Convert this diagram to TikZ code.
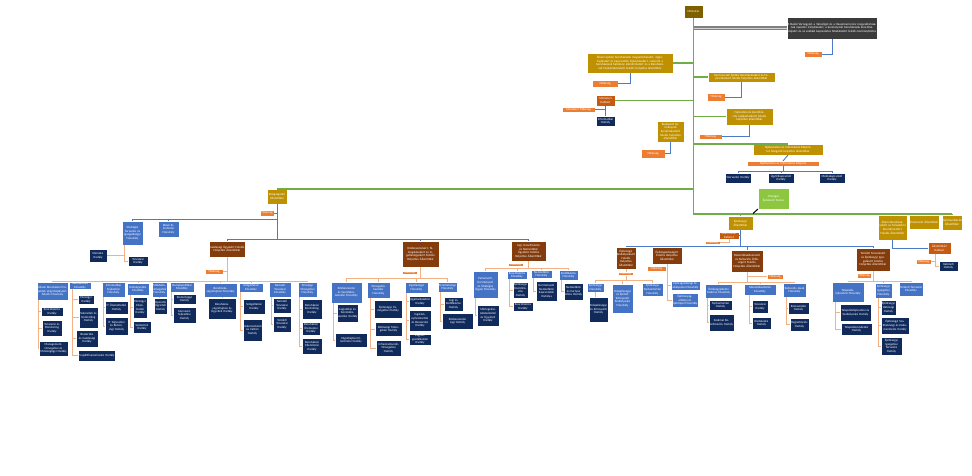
\documentclass[tikz,border=0pt]{standalone}
\usepackage{fontspec}
\setmainfont{Carlito}
\usetikzlibrary{calc}
\definecolor{minc}{HTML}{7F6000}
\definecolor{grayc}{HTML}{3B3B3B}
\definecolor{goldc}{HTML}{BF9000}
\definecolor{orc}{HTML}{ED7D31}
\definecolor{kabc}{HTML}{C55A11}
\definecolor{navyc}{HTML}{102A5C}
\definecolor{bluec}{HTML}{4472C4}
\definecolor{brownc}{HTML}{843C0C}
\definecolor{greenc}{HTML}{8DC63F}
\definecolor{glc}{HTML}{70AD47}
\definecolor{blc}{HTML}{4A7AC8}
\definecolor{olc}{HTML}{F4B183}
\newcommand\fs{\fontsize{3.1}{3.6}\selectfont}
\newcommand\obox[7]{%
  \pgfmathsetmacro\bxw{#5-#3}\pgfmathsetmacro\bxh{#6-#4}\pgfmathsetmacro\bxtw{max(#5-#3-1,1)}%
  \node[#2, minimum width=\bxw pt, minimum height=\bxh pt, text width=\bxtw pt] (#1) at ({(#3+#5)/2},{(#4+#6)/2}) {#7};}
\newcommand\vl[3]{\coordinate (vtmp) at (#2,0);
  \foreach \c in {#3}{\draw[oline] (vtmp |- #1.south) |- (\c.west);}}
\newcommand\bus[6]{\coordinate (bl) at (#4,#3); \coordinate (br) at (#5,#3);
  \draw[#1] (#2.south) -- (#2.south |- bl);
  \draw[#1] (bl) -- (br);
  \foreach \c in {#6}{\draw[#1] (\c.north |- bl) -- (\c.north);}}
\tikzset{
  box/.style={inner sep=0pt, outer sep=0pt, align=center, text=white, font=\fs, draw=white, line width=0.3pt},
  minb/.style={box, fill=minc},
  grayb/.style={box, fill=grayc},
  goldb/.style={box, fill=goldc},
  orb/.style={box, fill=orc},
  kabb/.style={box, fill=kabc},
  navyb/.style={box, fill=navyc},
  blueb/.style={box, fill=bluec},
  brownb/.style={box, fill=brownc},
  greenb/.style={box, fill=greenc},
  gline/.style={draw=glc, line width=1.1pt},
  bline/.style={draw=blc, line width=0.9pt},
  oline/.style={draw=olc, line width=0.9pt},
  grline/.style={draw=gray, line width=1.6pt, double=gray!35, double distance=0.5pt},
}
\begin{document}
\begin{tikzpicture}[x=1pt,y=-1pt]
\fill[white] (0,0) rectangle (972,475);
\useasboundingbox (0,0) rectangle (972,475);
% ---------- top
\obox{min}{minb}{684}{5}{703}{18}{Miniszter}
\obox{kb}{grayb}{787}{17}{877}{39}{A Budai Várnegyed, a Városliget és a Hauszmann-terv megvalósításának operatív irányításáért, a kormányzati beruházások koordinációjáért és az ezekkel kapcsolatos feladatokért felelős kormánybiztos}
\obox{tkb}{orb}{804}{51}{822}{57}{Titkárság}
\obox{g1}{goldb}{587}{53}{673}{73}{Állami építési beruházások megvalósításáért, végrehajtásáért és kapcsolódó fejlesztésekért, valamint a beruházások hatékony ellenőrzéséért és a Beruházások Nyilvántartásáért felelős helyettes államtitkár}
\obox{t1}{orb}{592}{80}{618}{87}{Titkárság}
\obox{g2}{goldb}{708}{72}{775}{82}{Kormányzati Építési Beruházásokért és Fejlesztésekért felelős helyettes államtitkár}
\obox{t2}{orb}{707}{93}{725}{101}{Titkárság}
\obox{mk}{kabb}{596}{95}{615}{106}{Miniszteri Kabinet}
\obox{mt}{orb}{562}{107}{595}{112}{Miniszteri Titkárság}
\obox{io}{navyb}{596}{116}{615}{126}{Informatikai Osztály}
\obox{g3}{goldb}{726}{108}{773}{125}{Fejlesztési és koordinációs tájékoztatásért felelős helyettes államtitkár}
\obox{t3}{orb}{699}{134}{722}{139}{Titkárság}
\obox{g4}{goldb}{657}{121}{684}{142}{Budapesti kormányzati beruházásokért felelős helyettes államtitkár}
\obox{t4}{orb}{641}{149}{665}{158}{Titkárság}
\obox{g5}{goldb}{753}{144}{823}{155}{Tájékoztatási és Információs Központot felügyelő helyettes államtitkár}
\obox{tik}{orb}{747}{161}{819}{166}{Tájékoztatási és Információs Központ}
\obox{n51}{navyb}{725}{173}{751}{183}{Szervezési Osztály}
\obox{n52}{navyb}{768}{173}{794}{183}{Ügyfélkapcsolati Osztály}
\obox{n53}{navyb}{819}{173}{845}{183}{Médiakapcsolati Osztály}
\obox{oet}{greenb}{758}{188}{789}{209}{Országos Építészeti Tanács}
\coordinate (gbot) at (693.5,214);
\coordinate (gend) at (952,214);
\coordinate (gc) at (753,213.5);
\draw[gline] (min.south) -- (gbot) -- (gend);
\draw[grline] (min.south |- kb.west) -- (kb.west);
\draw[gline] (min.south |- g1.east) -- (g1.east);
\draw[gline] (min.south |- g2.west) -- (g2.west);
\draw[gline] (min.south |- mk.east) -- (mk.east);
\draw[gline] (min.south |- g3.west) -- (g3.west);
\draw[gline] (min.south |- g5.north) -- (g5.north);
\draw[bline] (kb.south) |- (tkb.east);
\draw[bline] (g1.south) |- (t1.east);
\draw[bline] (g2.south) |- (t2.east);
\draw[bline] (g3.south) |- (t3.east);
\draw[bline] (g4.south) |- (t4.east);
\draw[bline] (mk.south) -- (io.north);
\draw[bline] (mt.east) -- (mt.east -| mk.south);
\draw[bline] (g5.south) -- (tik.north);
\bus{bline}{tik}{171}{738}{832}{n51,n52,n53}
\draw[black, line width=1pt] (oet.south west) -- (gc);
% ---------- right top-level
\obox{ea}{goldb}{728}{216}{753}{230}{Építésügyi Államtitkár}
\obox{ab}{goldb}{878}{215}{907}{240}{Állami Beruházásokért és Társadalmi Koordinációért Felelős Államtitkár}
\obox{pa}{goldb}{909}{215}{939}{229}{Parlamenti Államtitkár}
\obox{ka}{goldb}{942}{215}{962}{230}{Kommunikációs Államtitkár}
\foreach \n in {ea,ab,pa,ka}{\draw[gline] (gbot -| \n.north) -- (\n.north);}
\obox{abk}{kabb}{928}{242}{951}{254}{Államtitkári Kabinet}
\obox{tabk}{orb}{916}{259}{931}{264}{Titkárság}
\obox{nabk}{navyb}{939}{261}{958}{271}{Kabineti Osztály}
\draw[bline] (ab.south) |- (abk.west);
\coordinate (kv) at (935,0);
\draw[oline] (kv |- abk.south) |- (nabk.west);
\draw[oline] (tabk.east) -- (tabk.east -| kv);
% ---------- left: Közigazgatási
\obox{kf}{goldb}{267}{189}{287}{204}{Közigazgatási Államtitkár}
\obox{tkf}{orb}{260}{210}{274}{216}{Titkárság}
\draw[gline] (min.south |- kf.north) -- (kf.north);
\obox{str}{blueb}{122}{221}{143}{245}{Stratégiai Tervezési és Igazgatás\-ügyi Főosztály}
\obox{bel}{blueb}{158}{221}{179}{237}{Belső Ellenőrzési Főosztály}
\obox{elo}{navyb}{89}{249}{107}{262}{Elemzési Osztály}
\obox{tro}{navyb}{128}{256}{148}{266}{Tervezési Osztály}
\obox{gaz}{brownb}{209}{241}{245}{257}{Gazdasági Ügyekért Felelős Helyettes Államtitkár}
\obox{kozb}{brownb}{402}{241}{439}{267}{Közbeszerzésért, Támogatásokért és Ingatlanügyekért Felelős Helyettes Államtitkár}
\obox{jog}{brownb}{511}{241}{546}{261}{Jogi, Koordinációs és Nemzetközi Ügyekért Felelős Helyettes Államtitkár}
\coordinate (lb1) at (0,219);
\coordinate (lb2) at (0,239);
\draw[bline] (kf.south) -- (kf.south |- lb2);
\draw[bline] (str.north) |- (kf.south |- lb1);
\draw[bline] (bel.north) -- (bel.north |- lb1);
\draw[bline] (gaz.north) |- (kf.south |- lb2);
\draw[bline] (kf.south |- lb2) -| (jog.north);
\draw[bline] (kozb.north) -- (kozb.north |- lb2);
\draw[bline] (tkf.east) -- (tkf.east -| kf.south);
\coordinate (sv) at (124,0);
\draw[oline] (sv |- str.south) |- (elo.east);
\draw[oline] (sv |- str.south) |- (tro.west);
% Gazdasági
\obox{fa}{blueb}{37}{282}{68}{300}{Állami Beruházási Projektek Végrehajtásáért Felelős Főosztály}
\obox{fb}{blueb}{69}{282}{91}{289}{Gazdálkodási Főosztály}
\obox{fc}{blueb}{102}{282}{125}{297}{Informatikai Fejlesztési Főosztály}
\obox{fd}{blueb}{127}{283}{149}{295}{Költségvetési Főosztály}
\obox{fe}{blueb}{152}{282}{167}{297}{Működés\-támogatási Főosztály}
\obox{ff}{blueb}{170}{282}{194}{292}{Humánpolitikai Főosztály}
\obox{fg}{blueb}{204}{283}{237}{297}{Beruházás\-végrehajtási Főosztály}
\obox{fh}{blueb}{239}{283}{263}{292}{Szolgáltatási Főosztály}
\obox{fi}{blueb}{269}{282}{291}{297}{Nemzeti Tervezési Főosztály}
\obox{fj}{blueb}{298}{282}{317}{297}{Pénzügyi Támogatási Főosztály}
\bus{oline}{gaz}{281}{52.5}{307.5}{fa,fb,fc,fd,fe,ff,fg,fh,fi,fj}
\obox{tgaz}{orb}{205}{269}{223}{274}{Titkárság}
\draw[oline] (tgaz.east) -- (tgaz.east -| gaz.south);
\obox{na1}{navyb}{41}{307}{63}{316}{Koordinációs Osztály}
\obox{na2}{navyb}{42}{320}{62}{336}{Tervezési és Monitoring Osztály}
\obox{na3}{navyb}{39}{341}{68}{356}{Management\-támogatási és Minőségügyi Osztály}
\vl{fa}{38}{na1,na2,na3}
\obox{nb1}{navyb}{78}{295}{94}{304}{Pénzügyi Osztály}
\obox{nb2}{navyb}{79}{307}{98}{328}{Számviteli és Kontrolling Osztály}
\obox{nb3}{navyb}{76}{330}{98}{347}{Beszerzési és Gazdasági Osztály}
\obox{nb4}{navyb}{78}{350}{115}{361}{Projektfinanszírozási Osztály}
\vl{fb}{72}{nb1,nb2,nb3,nb4}
\obox{nc1}{navyb}{105}{301}{128}{314}{IT Üzemeltetési Osztály}
\obox{nc2}{navyb}{105}{317}{128}{335}{IT Fejlesztési és Biztonsági Osztály}
\vl{fc}{103}{nc1,nc2}
\obox{nd1}{navyb}{133}{297}{147}{318}{Pénzügyi Elszámolási Osztály}
\obox{nd2}{navyb}{133}{321}{151}{333}{Számviteli Osztály}
\vl{fd}{130}{nd1,nd2}
\obox{ne1}{navyb}{154}{298}{167}{314}{Operatív Ügyviteli Osztály}
\draw[oline] (fe.south) -- (fe.south |- ne1.north);
\obox{nf1}{navyb}{173}{294}{196}{304}{Személyügyi Osztály}
\obox{nf2}{navyb}{173}{307}{196}{323}{Szervezet\-fejlesztési Osztály}
\vl{ff}{171}{nf1,nf2}
\obox{ng1}{navyb}{208}{298}{236}{319}{Beruházás\-végrehajtási és Ügyviteli Osztály}
\draw[oline] (fg.south -| ng1.north) -- (ng1.north);
\obox{nh1}{navyb}{243}{299}{265}{314}{Szolgáltatási Osztály}
\obox{nh2}{navyb}{243}{319}{262}{341}{Dokumentációs és Irattári Osztály}
\vl{fh}{240.5}{nh1,nh2}
\obox{ni1}{navyb}{273}{298}{291}{313}{Nemzeti Tervezési Osztály}
\obox{ni2}{navyb}{273}{316}{291}{332}{Területi Tervezési Osztály}
\vl{fi}{271}{ni1,ni2}
\obox{nj1}{navyb}{302}{299}{322}{319}{Beruházási Kontrolling Osztály}
\obox{nj2}{navyb}{302}{322}{320}{335}{Beruházási Ütemezési Osztály}
\obox{nj3}{navyb}{302}{338}{322}{354}{Beruházási Ellenőrzési Osztály}
\vl{fj}{299.5}{nj1,nj2,nj3}
% Közbeszerzés
\obox{fk}{blueb}{331}{282}{362}{303}{Közbeszerzési és Szerződés\-kezelési Főosztály}
\obox{fl}{blueb}{367}{282}{390}{298}{Támogatás\-kezelési Főosztály}
\obox{fm}{blueb}{405}{282}{428}{293}{Ingatlanügyi Főosztály}
\obox{fn}{blueb}{438}{282}{457}{292}{Fennhatósági Főosztály}
\bus{oline}{kozb}{278}{346.5}{447.5}{fk,fl,fm,fn}
\obox{tkozb}{orb}{402}{271}{417}{274}{Titkárság}
\obox{nk1}{navyb}{337}{304}{358}{322}{Logisztikai és Szerződés\-kezelési Osztály}
\obox{nk2}{navyb}{335}{333}{367}{347}{Végrehajtási Ellenőrzési Osztály}
\vl{fk}{333}{nk1,nk2}
\obox{nl1}{navyb}{374}{300}{402}{318}{Építésügyi Támogatási Osztály}
\obox{nl2}{navyb}{375}{322}{402}{336}{Közösségi Támogatási Osztály}
\obox{nl3}{navyb}{376}{340}{401}{356}{Infrastrukturális Támogatási Osztály}
\vl{fl}{370}{nl1,nl2,nl3}
\obox{nm1}{navyb}{409}{296}{431}{307}{Ingatlan\-kezelési Osztály}
\obox{nm2}{navyb}{409}{310}{431}{331}{Ingatlan\-nyilvántartási és Beszerzési Osztály}
\obox{nm3}{navyb}{409}{334}{431}{345}{Vagyon\-gazdálkodási Osztály}
\vl{fm}{406.5}{nm1,nm2,nm3}
\obox{nn1}{navyb}{444}{297}{463}{311}{Jogi és Kodifikációs Osztály}
\obox{nn2}{navyb}{442}{313}{473}{329}{Közbeszerzési Jogi Osztály}
\vl{fn}{440}{nn1,nn2}
% Jogi
\obox{fo}{blueb}{473}{271}{498}{298}{Parlamenti, Kormányzati és Stratégiai Ügyek Főosztály}
\obox{fp}{blueb}{507}{271}{527}{279}{Koordinációs Főosztály}
\obox{fq}{blueb}{531}{270}{552}{278}{Nemzetközi Főosztály}
\obox{fr}{blueb}{559}{270}{578}{280}{Kodifikációs Főosztály}
\bus{oline}{jog}{268}{485.5}{568.5}{fo,fp,fq,fr}
\obox{tjog}{orb}{508}{263}{523}{266}{Titkárság}
\obox{no1}{navyb}{477}{305}{499}{326}{Mérlegelési, Adatvédelmi és Ügyviteli Osztály}
\vl{fo}{475}{no1}
\obox{np1}{navyb}{513}{282}{528}{298}{Építésügyi Koordinációs Osztály}
\obox{np2}{navyb}{513}{302}{533}{311}{Koordinációs Osztály}
\vl{fp}{509}{np1,np2}
\obox{nq1}{navyb}{536}{281}{557}{301}{Kormányzati Nemzetközi Kapcsolatok Osztálya}
\vl{fq}{533}{nq1}
\obox{nr1}{navyb}{564}{283}{583}{300}{Nemzetközi és Európai Uniós Osztály}
\vl{fr}{561}{nr1}
% ---------- Építésügyi Államtitkár
\obox{eak}{kabb}{719}{232}{739}{239}{Államtitkári Kabinet}
\obox{teak}{orb}{705}{241}{720}{244}{Titkárság}
\draw[oline] (eak.south) |- (teak.east);
\draw[bline] (eak.east) -- (eak.east -| ea.south);
\obox{b1}{brownb}{616}{247}{636}{269}{Építésügyi Szabályozásért Felelős Helyettes Államtitkár}
\obox{b2}{brownb}{652}{247}{682}{264}{Építésgazdaságért Felelős Helyettes Államtitkár}
\obox{b3}{brownb}{731}{250}{763}{272}{Műemlékvédelemért és Kulturális Örökségért Felelős Helyettes Államtitkár}
\obox{b4}{brownb}{856}{248}{890}{271}{Területi Tervezésért és Építésügyi Igazgatásért Felelős Helyettes Államtitkár}
\bus{bline}{ea}{246}{626}{873}{b1,b2,b3,b4}
% b1
\obox{fs}{blueb}{587}{283}{604}{292}{Építésügyi Főosztály}
\obox{ft}{blueb}{612}{284}{633}{313}{Településügyi és Épített Környezeti Szabályozási Főosztály}
\obox{fu}{blueb}{642}{283}{663}{296}{Építésügyi Nyilvántartási Főosztály}
\bus{oline}{b1}{280}{595.5}{652.5}{fs,ft,fu}
\obox{tb1}{orb}{618}{272}{633}{275}{Titkárság}
\obox{ns1}{navyb}{589}{297}{608}{322}{Településügyi és Környezeti Osztály}
\draw[oline] (fs.south) -- (fs.south |- ns1.north);
% b2
\obox{tb2}{orb}{647}{266}{666}{271}{Titkárság}
\obox{fv}{blueb}{671}{281}{700}{290}{Építésgazdasági Szabályozási Főosztály}
\obox{fw}{blueb}{672}{293}{698}{307}{Építőanyag-ellátási és Építőipari Főosztály}
\draw[oline] (b2.south) |- (fw.west);
\draw[oline] (b2.south |- fv.west) -- (fv.west);
% b3
\obox{fx}{blueb}{705}{284}{732}{298}{Örökségvédelmi Szakmai Főosztály}
\obox{fy}{blueb}{744}{284}{776}{295}{Műemlékvédelmi Főosztály}
\obox{fz}{blueb}{783}{283}{806}{297}{Kulturális Javak Főosztály}
\bus{oline}{b3}{282}{718.5}{794.5}{fx,fy,fz}
\obox{tb3}{orb}{767}{274}{783}{279}{Titkárság}
\draw[oline] (tb3.west) -- (tb3.west -| b3.south);
\obox{nx1}{navyb}{709}{300}{732}{310}{Nyilvántartási Osztály}
\obox{nx2}{navyb}{709}{314}{734}{331}{Szakmai Koordinációs Osztály}
\vl{fx}{707}{nx1,nx2}
\obox{ny1}{navyb}{752}{300}{768}{313}{Tervezési Osztály}
\obox{ny2}{navyb}{752}{317}{771}{329}{Kivitelezési Osztály}
\vl{fy}{749}{ny1,ny2}
\obox{nz1}{navyb}{788}{302}{809}{314}{Restaurálási Osztály}
\obox{nz2}{navyb}{790}{318}{809}{331}{Regisztrációs Osztály}
\vl{fz}{786}{nz1,nz2}
% b4
\obox{faa}{blueb}{832}{282}{864}{302}{Település\-fejlesztési Főosztály}
\obox{fbb}{blueb}{875}{283}{892}{298}{Építésügyi Igazgatási Főosztály}
\obox{fcc}{blueb}{899}{282}{923}{296}{Területi Tervezési Főosztály}
\bus{oline}{b4}{281}{848}{911}{faa,fbb,fcc}
\obox{tb4}{orb}{857}{273}{871}{278}{Titkárság}
\obox{naa1}{navyb}{840}{304}{871}{321}{Településfejlesztési és Szabályozási Osztály}
\obox{naa2}{navyb}{841}{323}{872}{335}{Településrendezési Osztály}
\vl{faa}{835}{naa1,naa2}
\obox{nbb1}{navyb}{881}{300}{896}{315}{Építésügyi Hatósági Osztály}
\obox{nbb2}{navyb}{881}{317}{909}{334}{Építésügyi Szakhatósági és Dokumentációs Osztály}
\obox{nbb3}{navyb}{881}{337}{902}{355}{Építésügyi Igazgatási Tervezési Osztály}
\vl{fbb}{878}{nbb1,nbb2,nbb3}
\end{tikzpicture}
\end{document}
